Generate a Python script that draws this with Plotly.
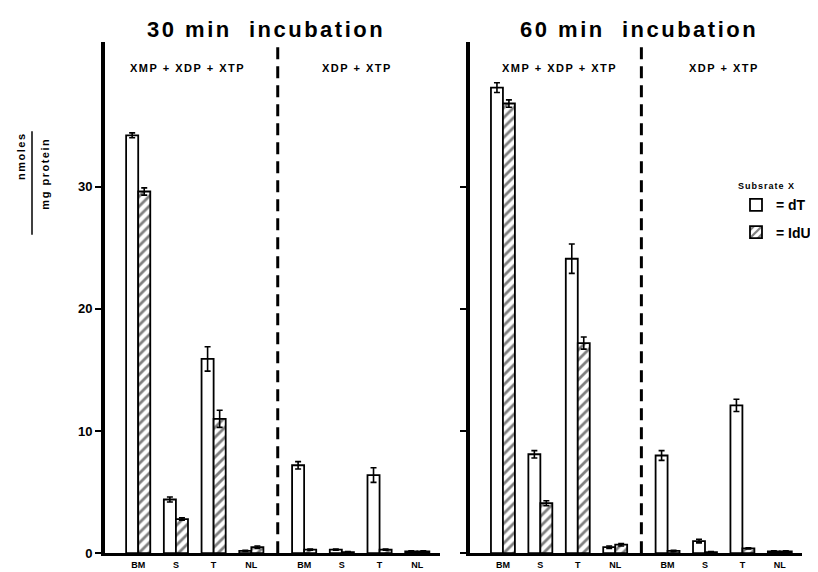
import plotly.graph_objects as go
from plotly.subplots import make_subplots

# ---------------- data ----------------
categories = ["BM", "S", "T", "NL", "BM", "S", "T", "NL"]
positions = [0, 1, 2, 3, 4.4, 5.4, 6.4, 7.4]
divider_pos = 3.7

# 30 min incubation
dT_30 = [34.2, 4.4, 15.9, 0.2, 7.2, 0.3, 6.4, 0.15]
dT_30_err = [0.2, 0.2, 1.0, 0.05, 0.3, 0.05, 0.6, 0.05]
IdU_30 = [29.6, 2.8, 11.0, 0.5, 0.3, 0.1, 0.3, 0.15]
IdU_30_err = [0.3, 0.1, 0.7, 0.1, 0.05, 0.05, 0.05, 0.05]

# 60 min incubation
dT_60 = [38.1, 8.1, 24.1, 0.5, 8.0, 1.0, 12.1, 0.15]
dT_60_err = [0.4, 0.3, 1.2, 0.1, 0.4, 0.15, 0.5, 0.05]
IdU_60 = [36.8, 4.1, 17.2, 0.7, 0.2, 0.1, 0.4, 0.15]
IdU_60_err = [0.3, 0.2, 0.5, 0.1, 0.05, 0.05, 0.05, 0.05]

y_ticks = [0, 10, 20, 30]
panel_titles = ["30 min  incubation", "60 min  incubation"]
group_labels = ["XMP + XDP + XTP", "XDP + XTP"]
group_label_pos = [[1.3, 5.8], [1.5, 5.9]]

FONT = "Liberation Sans"

fig = make_subplots(rows=1, cols=2, horizontal_spacing=0.04)

panels = [(dT_30, dT_30_err, IdU_30, IdU_30_err), (dT_60, dT_60_err, IdU_60, IdU_60_err)]
for i, (dT, dTe, IdU, IdUe) in enumerate(panels):
    col = i + 1
    fig.add_trace(go.Bar(
        x=positions, y=dT, name="= dT", offsetgroup="dT", showlegend=(i == 0),
        legendgroup="dT",
        marker=dict(color="white", line=dict(color="black", width=1.8)),
        error_y=dict(type="data", array=dTe, color="black", thickness=1.6, width=3),
    ), row=1, col=col)
    fig.add_trace(go.Bar(
        x=positions, y=IdU, name="= IdU", offsetgroup="IdU", showlegend=(i == 0),
        legendgroup="IdU",
        marker=dict(color="white", line=dict(color="black", width=1.8),
                    pattern=dict(shape="/", fgcolor="black", bgcolor="white", size=7, solidity=0.4)),
        error_y=dict(type="data", array=IdUe, color="black", thickness=1.6, width=3),
    ), row=1, col=col)

# axes
xdomains = [[0.1186, 0.528], [0.5648, 0.971]]
ydomain = [0.0332, 0.939]
for i in range(2):
    xa = "xaxis" if i == 0 else "xaxis2"
    ya = "yaxis" if i == 0 else "yaxis2"
    fig.layout[xa].update(
        domain=xdomains[i], range=[-0.88, 8.0], tickvals=positions, ticktext=categories,
        showline=True, linecolor="black", linewidth=3, ticks="", showgrid=False,
        zeroline=False, tickfont=dict(family=FONT, size=9, color="black", weight="bold"),
        ticklabelstandoff=1,
    )
    fig.layout[ya].update(
        domain=ydomain, range=[0, 41.8], tickvals=y_ticks,
        showticklabels=(i == 0),
        showline=True, linecolor="black", linewidth=4, ticks="outside", ticklen=6,
        tickwidth=1.5, tickcolor="black", showgrid=False, zeroline=False,
        tickfont=dict(family=FONT, size=13, color="black", weight="bold"),
    )

# dashed dividers
for i in range(2):
    xr = "x" if i == 0 else "x2"
    yr = "y" if i == 0 else "y2"
    fig.add_shape(type="line", xref=xr, yref=yr, x0=divider_pos, x1=divider_pos,
                  y0=0, y1=41.8, line=dict(color="black", width=3, dash="12px,7px"))

annotations = []
title_x = [0.315, 0.771]
for i in range(2):
    annotations.append(dict(
        text="<span style='letter-spacing:2.5px'>" + panel_titles[i] + "</span>",
        xref="paper", yref="paper", x=title_x[i], y=1 - 22 / 572, showarrow=False,
        font=dict(family=FONT, size=22, color="black", weight="bold"),
        xanchor="center", yanchor="middle"))
    xr = "x" if i == 0 else "x2"
    yr = "y" if i == 0 else "y2"
    for j in range(2):
        annotations.append(dict(
            text="<span style='letter-spacing:1.5px'>" + group_labels[j] + "</span>",
            xref=xr, yref=yr, x=group_label_pos[i][j], y=39.7, showarrow=False,
            font=dict(family=FONT, size=11, color="black", weight="bold"),
            xanchor="center", yanchor="middle"))

# y-axis label as fraction
annotations.append(dict(text="<span style='letter-spacing:1.5px'>nmoles</span>",
                        xref="paper", yref="paper", x=13 / 818, y=1 - 150 / 572,
                        textangle=-90, showarrow=False,
                        font=dict(family=FONT, size=11, color="black", weight="bold"),
                        xanchor="center", yanchor="middle"))
annotations.append(dict(text="<span style='letter-spacing:1.5px'>mg protein</span>",
                        xref="paper", yref="paper", x=37 / 818, y=1 - 168 / 572,
                        textangle=-90, showarrow=False,
                        font=dict(family=FONT, size=11, color="black", weight="bold"),
                        xanchor="center", yanchor="middle"))
fig.add_shape(type="line", xref="paper", yref="paper", x0=24 / 818, x1=24 / 818,
              y0=1 - 125 / 572, y1=1 - 230 / 572, line=dict(color="black", width=1.5))

fig.update_layout(
    annotations=annotations,
    width=818, height=572, margin=dict(l=0, r=0, t=0, b=0),
    plot_bgcolor="white", paper_bgcolor="white",
    barmode="group", bargap=0.36, bargroupgap=0,
    font=dict(family=FONT, color="black"),
    legend=dict(
        title=dict(text="<span style='letter-spacing:1px'>Subsrate X</span>",
                   font=dict(family=FONT, size=9, color="black", weight="bold")),
        x=728 / 818, y=1 - 172 / 572, xanchor="left", yanchor="top",
        font=dict(family=FONT, size=14, color="black", weight="bold"),
        bgcolor="rgba(0,0,0,0)", itemwidth=30, tracegroupgap=6,
    ),
)

fig.write_html("out.html")
